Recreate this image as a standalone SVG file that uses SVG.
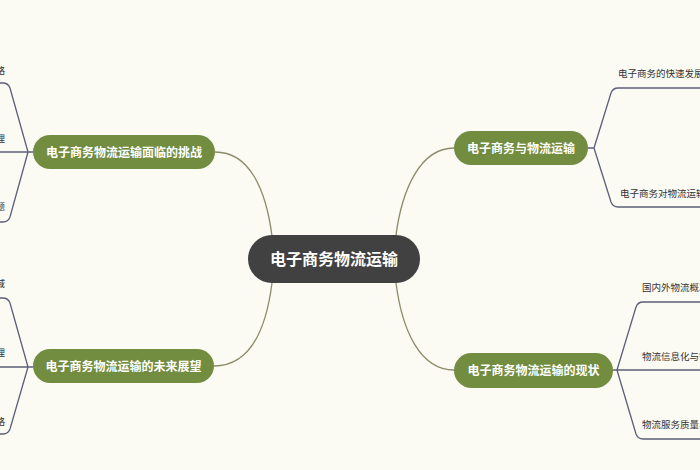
<svg xmlns="http://www.w3.org/2000/svg" width="700" height="470" viewBox="0 0 700 470">
<style>
.bg{fill:#fbfaf3}
.root rect{fill:#414141}
.root text{fill:#ffffff;font-family:"Noto Sans CJK SC","Noto Sans",sans-serif;font-size:16px;font-weight:bold;text-anchor:middle}
.br rect{fill:#728c40}
.br text{fill:#ffffff;font-family:"Noto Sans CJK SC","Noto Sans",sans-serif;font-size:12px;font-weight:bold;text-anchor:middle}
.leaf{fill:#333333;font-family:"Noto Sans CJK SC","Noto Sans",sans-serif;font-size:9.5px}
.main{fill:none;stroke:#8c8b6a;stroke-width:1.3}
.sub{fill:none;stroke:#5c5f7a;stroke-width:1.3}
</style>
<rect class="bg" x="0" y="0" width="700" height="470"/>
<g id="connectors">
<path class="main" d="M215,152 C250,152 266,190 272,236"/>
<path class="main" d="M214,366 C250,366 266,330 272,283"/>
<path class="main" d="M396,235 C402,190 420,148 454,148"/>
<path class="main" d="M396,283 C402,330 420,370 454,370"/>
<path class="sub" d="M33,152 L0,152 M28,152 L10,88 Q8,83 3,83 L0,83 M28,152 L10,217 Q8,222 3,222 L0,222"/>
<path class="sub" d="M33,367 L0,367 M28,367 L10,303 Q8,298 3,298 L0,298 M28,367 L10,429 Q8,434 3,434 L0,434"/>
<path class="sub" d="M588,148 L594,148 L611,93 Q613,88 618,88 L700,88 M594,148 L611,202 Q613,207 618,207 L700,207"/>
<path class="sub" d="M613,370 L700,370 M617,370 L636,307 Q638,302 643,302 L700,302 M617,370 L636,434 Q638,439 643,439 L700,439"/>
</g>
<g id="root" class="root">
<rect x="248" y="235" width="172" height="48" rx="24"/>
<text x="334" y="265">电子商务物流运输</text>
</g>
<g id="b1" class="br">
<rect x="33" y="135" width="182" height="34" rx="17"/>
<text x="124" y="156.5">电子商务物流运输面临的挑战</text>
</g>
<g id="b2" class="br">
<rect x="33" y="349" width="181" height="34" rx="17"/>
<text x="123.5" y="370.5">电子商务物流运输的未来展望</text>
</g>
<g id="b3" class="br">
<rect x="454" y="131" width="134" height="34" rx="17"/>
<text x="521" y="152.5">电子商务与物流运输</text>
</g>
<g id="b4" class="br">
<rect x="454" y="353" width="159" height="35" rx="17.5"/>
<text x="533.5" y="375">电子商务物流运输的现状</text>
</g>
<g id="l1"><text class="leaf" x="5" y="74" text-anchor="end">略</text></g>
<g id="l2"><text class="leaf" x="5" y="142" text-anchor="end">理</text></g>
<g id="l3"><text class="leaf" x="5" y="210" text-anchor="end">题</text></g>
<g id="l4"><text class="leaf" x="5" y="287" text-anchor="end">域</text></g>
<g id="l5"><text class="leaf" x="5" y="356" text-anchor="end">理</text></g>
<g id="l6"><text class="leaf" x="5" y="425" text-anchor="end">略</text></g>
<g id="r1"><text class="leaf" x="618" y="77">电子商务的快速发展</text></g>
<g id="r2"><text class="leaf" x="620" y="197">电子商务对物流运输</text></g>
<g id="r3"><text class="leaf" x="642" y="291">国内外物流概况</text></g>
<g id="r4"><text class="leaf" x="642" y="360">物流信息化与智</text></g>
<g id="r5"><text class="leaf" x="642" y="428">物流服务质量与</text></g>
</svg>
